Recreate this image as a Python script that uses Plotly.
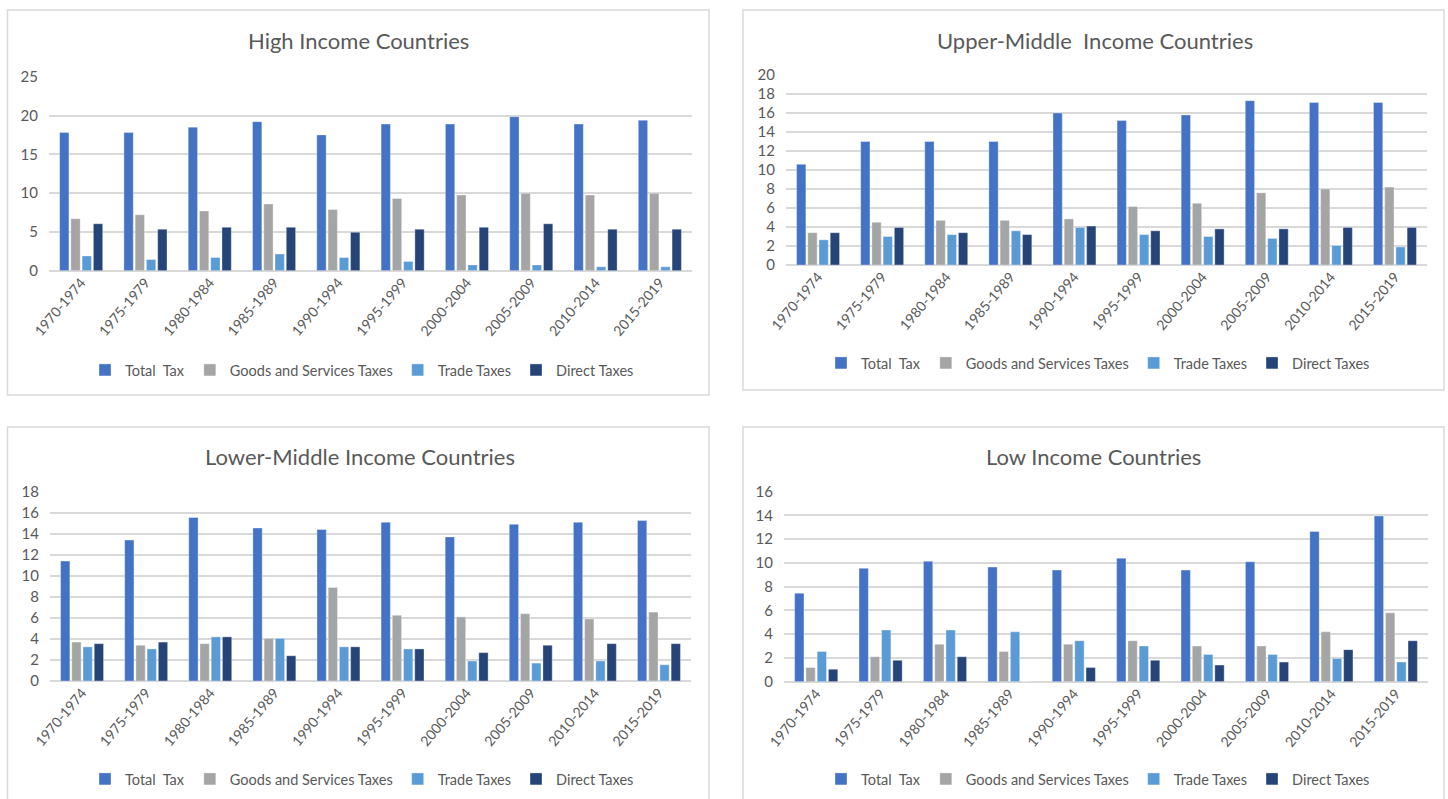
import plotly.graph_objects as go

periods = ["1970-1974", "1975-1979", "1980-1984", "1985-1989", "1990-1994",
           "1995-1999", "2000-2004", "2005-2009", "2010-2014", "2015-2019"]
series_names = ["Total  Tax", "Goods and Services Taxes", "Trade Taxes", "Direct Taxes"]
series_colors = ["#4472C4", "#A5A5A5", "#5B9BD5", "#264478"]

# High income
high_total = [17.8, 17.8, 18.5, 19.2, 17.5, 18.9, 18.9, 19.85, 18.9, 19.4]
high_goods = [6.7, 7.2, 7.7, 8.6, 7.9, 9.3, 9.75, 9.97, 9.75, 9.97]
high_trade = [1.9, 1.45, 1.7, 2.15, 1.7, 1.2, 0.75, 0.75, 0.5, 0.5]
high_direct = [6.05, 5.35, 5.6, 5.6, 4.95, 5.35, 5.6, 6.05, 5.35, 5.35]

# Upper-middle income
umid_total = [10.6, 13.0, 13.0, 13.0, 16.0, 15.2, 15.8, 17.3, 17.1, 17.1]
umid_goods = [3.4, 4.5, 4.7, 4.7, 4.85, 6.15, 6.5, 7.6, 8.0, 8.2]
umid_trade = [2.65, 3.0, 3.2, 3.6, 3.95, 3.2, 3.0, 2.8, 2.05, 1.9]
umid_direct = [3.4, 3.95, 3.4, 3.2, 4.1, 3.6, 3.8, 3.8, 3.95, 3.95]

# Lower-middle income
lmid_total = [11.4, 13.4, 15.55, 14.55, 14.4, 15.1, 13.7, 14.9, 15.1, 15.25]
lmid_goods = [3.7, 3.4, 3.55, 4.05, 8.9, 6.25, 6.1, 6.4, 5.9, 6.55]
lmid_trade = [3.25, 3.05, 4.2, 4.05, 3.25, 3.05, 1.9, 1.7, 1.9, 1.55]
lmid_direct = [3.55, 3.7, 4.2, 2.4, 3.25, 3.05, 2.7, 3.4, 3.55, 3.55]

# Low income
low_total = [7.45, 9.55, 10.15, 9.65, 9.4, 10.4, 9.4, 10.1, 12.65, 13.95]
low_goods = [1.2, 2.1, 3.15, 2.55, 3.15, 3.45, 3.0, 3.0, 4.2, 5.8]
low_trade = [2.55, 4.35, 4.35, 4.2, 3.45, 3.0, 2.3, 2.3, 1.95, 1.65]
low_direct = [1.05, 1.8, 2.1, 0.0, 1.2, 1.8, 1.4, 1.65, 2.7, 3.45]

titles = ["High Income Countries", "Upper-Middle  Income Countries",
          "Lower-Middle Income Countries", "Low Income Countries"]
y_max = [25, 20, 18, 16]
y_step = [5, 2, 2, 2]
panel_data = [
    [high_total, high_goods, high_trade, high_direct],
    [umid_total, umid_goods, umid_trade, umid_direct],
    [lmid_total, lmid_goods, lmid_trade, lmid_direct],
    [low_total, low_goods, low_trade, low_direct],
]

W, H = 1448, 799
def px(x):
    return x / W
def py(y):
    return 1 - y / H

# plot areas in pixels: (x0, x1, y_bottom, y_top)
areas = [(49, 692, 270.7, 76.7), (786, 1427, 265, 75),
         (50, 691, 681, 491.7), (784, 1428, 681.7, 491.7)]
boxes = [(7.5, 709, 10, 395), (743, 1444, 10, 390),
         (7.5, 709, 427, 805), (743, 1444, 427, 805)]
title_pos = [(358, 40), (1095, 40), (360, 456), (1093, 456)]
legend_pos = [(362, 370), (1098, 363), (362, 779), (1098, 779)]

FONT = "Lato, 'Open Sans', sans-serif"
TXT = "#595959"

fig = go.Figure()
layout = dict(
    template="none",
    width=W, height=H, margin=dict(l=0, r=0, t=0, b=0, pad=0, autoexpand=False),
    paper_bgcolor="white", plot_bgcolor="white",
    barmode="group", bargap=0.3, bargroupgap=0.17,
    font=dict(family=FONT, color=TXT),
    shapes=[], annotations=[],
)

for i in range(4):
    n = "" if i == 0 else str(i + 1)
    xa, ya = "x" + n, "y" + n
    leg = "legend" + n
    for s in range(4):
        fig.add_trace(go.Bar(
            x=periods, y=panel_data[i][s], name=series_names[s],
            marker=dict(color=series_colors[s], line=dict(color="rgba(255,255,255,0.35)", width=1)),
            xaxis=xa, yaxis=ya, legend=leg, showlegend=True,
        ))
    x0, x1, yb, yt = areas[i]
    layout["xaxis" + n] = dict(
        domain=[px(x0), px(x1)], anchor=ya, tickangle=-50,
        tickfont=dict(size=14, color=TXT, family=FONT),
        showgrid=False, showline=False, ticks="", zeroline=False,
        automargin=False, fixedrange=True,
    )
    layout["yaxis" + n] = dict(
        domain=[py(yb), py(yt)], anchor=xa, range=[0, y_max[i]],
        dtick=y_step[i], tick0=0,
        tickfont=dict(size=15, color=TXT, family=FONT),
        showgrid=True, gridcolor="#D9D9D9", gridwidth=1.5,
        zeroline=True, zerolinecolor="#D9D9D9", zerolinewidth=1.5,
        showline=False, ticks="", ticklabelstandoff=10,
        automargin=False, fixedrange=True,
    )
    lx, ly = legend_pos[i]
    layout[leg] = dict(
        orientation="h", x=px(lx), y=py(ly), xanchor="center", yanchor="middle",
        xref="paper", yref="paper",
        font=dict(size=14.5, color=TXT, family=FONT), bgcolor="rgba(0,0,0,0)",
        itemwidth=30, tracegroupgap=0,
    )
    bx0, bx1, by0, by1 = boxes[i]
    layout["shapes"].append(dict(
        type="rect", xref="paper", yref="paper",
        x0=px(bx0), x1=px(bx1), y0=py(by1), y1=py(by0),
        line=dict(color="#D9D9D9", width=1.5), fillcolor="rgba(0,0,0,0)", layer="below",
    ))
    tx, ty = title_pos[i]
    layout["annotations"].append(dict(
        text=titles[i], x=px(tx), y=py(ty), xref="paper", yref="paper",
        xanchor="center", yanchor="middle", showarrow=False,
        font=dict(size=22, color=TXT, family=FONT),
    ))

fig.update_layout(**layout)
fig.write_html("out.html", config={"displayModeBar": False},
               post_script="document.body.style.margin='0';document.body.style.overflow='hidden';")
